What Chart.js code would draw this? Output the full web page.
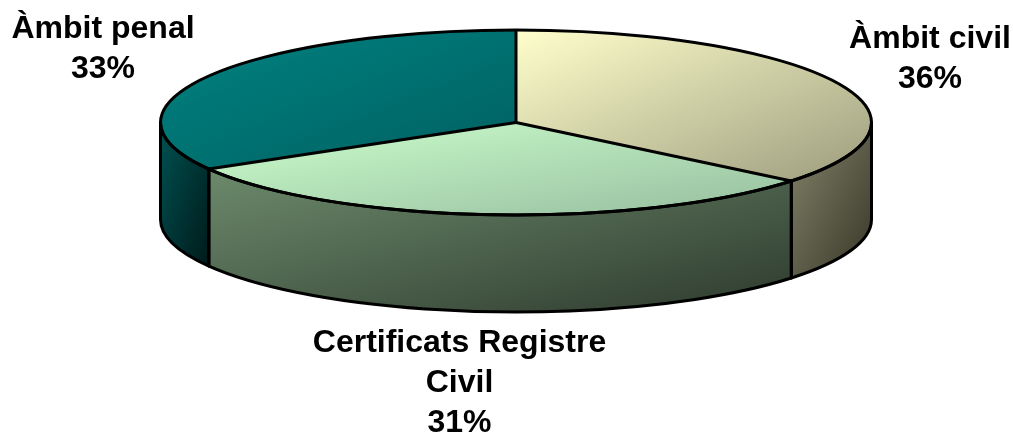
<!DOCTYPE html>
<html>
<head>
<meta charset="utf-8">
<title>Àmbit</title>
<script src="https://cdn.jsdelivr.net/npm/chart.js@4/dist/chart.umd.min.js"></script>
<style>
    html, body { margin: 0; padding: 0; background: #ffffff; }
    canvas { display: block; }
</style>
</head>
<body>
<canvas id="pieChart" width="1013" height="438"></canvas>
<script>
// Chart data
const categories = ['Àmbit civil', 'Certificats Registre Civil', 'Àmbit penal'];
const categoryLines = [['Àmbit civil'], ['Certificats Registre', 'Civil'], ['Àmbit penal']];
const shares = [35.9, 30.7, 33.4];

// Colours: [start, end] of each gradient
const topColors = [['#FFFFCC', '#9C9C7E'], ['#CCFFCC', '#96BD9F'], ['#008282', '#006060']];
const wallColors = [['#85846A', '#383729'], ['#6C8A6C', '#2E3A2E'], ['#005252', '#001A1A']];

// Where the squashed pie sits on the page
const pie = { x: 516, y: 122.5, rx: 355.5, ry: 92.5, depth: 97 };
const labelSpots = [
    { x: 930, y: 48, step: 40 },
    { x: 459.5, y: 352, step: 40 },
    { x: 103, y: 38, step: 40 }
];

// Gradient running corner to corner of a box, stretched with the box
function boxGradient(ctx, box, colors) {
    const w = box.x1 - box.x0;
    const h = box.y1 - box.y0;
    const k = 2 * w * h / (w * w + h * h);
    const grad = ctx.createLinearGradient(box.x0, box.y0, box.x0 + h * k, box.y0 + w * k);
    grad.addColorStop(0, colors[0]);
    grad.addColorStop(1, colors[1]);
    return grad;
}

// Bounding box of a slice, in the arc's own coordinates
function sliceBox(arc) {
    const xs = [arc.x];
    const ys = [arc.y];
    const add = (angle) => {
        xs.push(arc.x + arc.outerRadius * Math.cos(angle));
        ys.push(arc.y + arc.outerRadius * Math.sin(angle));
    };
    add(arc.startAngle);
    add(arc.endAngle);
    for (let a = -Math.PI * 2; a <= Math.PI * 4; a += Math.PI / 2) {
        if (a > arc.startAngle && a < arc.endAngle) add(a);
    }
    return { x0: Math.min(...xs), y0: Math.min(...ys), x1: Math.max(...xs), y1: Math.max(...ys) };
}

function edgePoint(angle) {
    return { x: pie.x + pie.rx * Math.cos(angle), y: pie.y + pie.ry * Math.sin(angle) };
}

// Front part of a slice wall, null when the slice only faces backwards
function wallRange(arc) {
    const from = Math.max(arc.startAngle, 0);
    const to = Math.min(arc.endAngle, Math.PI);
    return to > from ? [from, to] : null;
}

function traceWall(ctx, from, to) {
    ctx.beginPath();
    ctx.ellipse(pie.x, pie.y, pie.rx, pie.ry, 0, from, to);
    ctx.ellipse(pie.x, pie.y + pie.depth, pie.rx, pie.ry, 0, to, from, true);
    ctx.closePath();
}

const pie3d = {
    id: 'pie3d',
    beforeDatasetsDraw(chart) {
        const ctx = chart.ctx;
        const arcs = chart.getDatasetMeta(0).data;

        // Walls first, the top of the pie goes over them
        arcs.forEach((arc, i) => {
            const range = wallRange(arc);
            if (!range) return;
            const a = edgePoint(range[0]);
            const b = edgePoint(range[1]);
            const lowest = range[0] < Math.PI / 2 && range[1] > Math.PI / 2 ? pie.y + pie.ry : Math.max(a.y, b.y);
            const box = {
                x0: Math.min(a.x, b.x),
                x1: Math.max(a.x, b.x),
                y0: Math.min(a.y, b.y),
                y1: lowest + pie.depth
            };
            traceWall(ctx, range[0], range[1]);
            ctx.fillStyle = boxGradient(ctx, box, wallColors[i]);
            ctx.fill();
        });

        // Slices get their gradient here since the arc geometry is known now
        arcs.forEach((arc, i) => {
            arc.options.backgroundColor = boxGradient(ctx, sliceBox(arc), topColors[i]);
        });

        // Squash the round pie into the ellipse
        const first = arcs[0];
        ctx.save();
        ctx.translate(pie.x, pie.y);
        ctx.scale(pie.rx / first.outerRadius, pie.ry / first.outerRadius);
        ctx.translate(-first.x, -first.y);
    },
    afterDatasetsDraw(chart) {
        const ctx = chart.ctx;
        const arcs = chart.getDatasetMeta(0).data;
        ctx.restore();

        // Outlines, drawn unsquashed so the line width stays even
        ctx.strokeStyle = '#000000';
        ctx.lineWidth = 3;
        ctx.lineJoin = 'round';
        arcs.forEach((arc) => {
            const range = wallRange(arc);
            if (range) {
                traceWall(ctx, range[0], range[1]);
                ctx.stroke();
            }
            const p = edgePoint(arc.startAngle);
            ctx.beginPath();
            ctx.moveTo(pie.x, pie.y);
            ctx.lineTo(p.x, p.y);
            ctx.stroke();
        });
        ctx.beginPath();
        ctx.ellipse(pie.x, pie.y, pie.rx, pie.ry, 0, 0, Math.PI * 2);
        ctx.stroke();

        // Labels
        ctx.fillStyle = '#000000';
        ctx.font = 'bold 32px "Liberation Sans", Arial, sans-serif';
        ctx.textAlign = 'center';
        ctx.textBaseline = 'alphabetic';
        categoryLines.forEach((lines, i) => {
            const spot = labelSpots[i];
            const rows = lines.concat(Math.round(shares[i]) + '%');
            rows.forEach((row, r) => ctx.fillText(row, spot.x, spot.y + r * spot.step));
        });
    }
};

new Chart(document.getElementById('pieChart'), {
    type: 'pie',
    data: {
        labels: categories,
        datasets: [{
            data: shares,
            backgroundColor: topColors.map(c => c[0]),
            borderWidth: 0
        }]
    },
    options: {
        responsive: false,
        animation: false,
        events: [],
        layout: { padding: 0 },
        plugins: {
            legend: { display: false },
            tooltip: { enabled: false },
            title: { display: false }
        }
    },
    plugins: [pie3d]
});
</script>
</body>
</html>
